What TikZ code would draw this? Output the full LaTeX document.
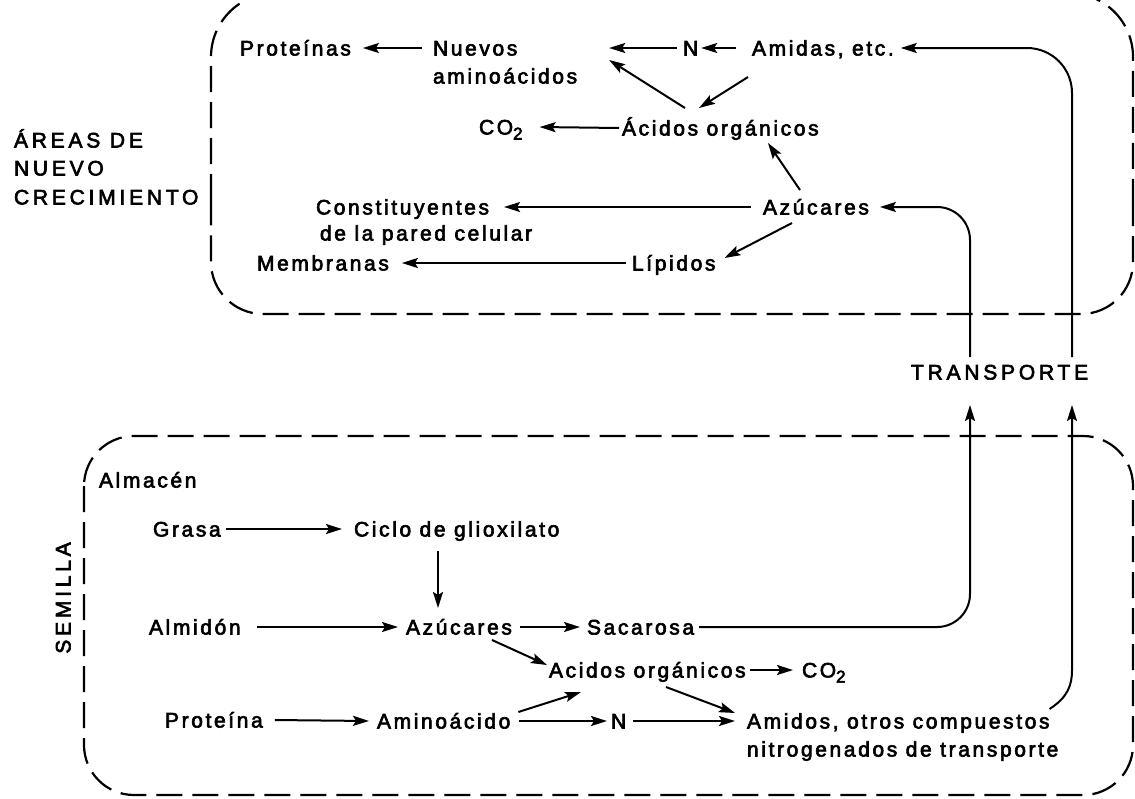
\documentclass[tikz,border=0pt]{standalone}
\usepackage{fontspec}
\setmainfont{Liberation Sans}[LetterSpace=12.5,FakeBold=3]
\newfontfamily\spacedcaps{Liberation Sans}[LetterSpace=18,FakeBold=3]
\usetikzlibrary{arrows.meta,calc}

\newcommand{\cotwo}{CO\raisebox{-5pt}{\fontsize{17}{17}\selectfont 2}}

\begin{document}
\begin{tikzpicture}[x=1pt,y=-1pt,
  lbl/.style={font=\fontsize{21}{25}\selectfont, inner sep=0pt, outer sep=0pt,
    text height=15pt, text depth=0pt, anchor=west},
  caplbl/.style={lbl, font=\spacedcaps\fontsize{21}{25}\selectfont},
  arr/.style={line width=2pt, -{Stealth[length=16pt,width=10pt,inset=3pt]}},
  boxline/.style={line width=2.2pt, dash pattern=on 26pt off 10pt}]
\useasboundingbox (0,0) rectangle (1135,798);
\clip (0,0) rectangle (1135,798);

% ---------- region outlines ----------
\draw[boxline, rounded corners=64pt] (211,200) -- (211,-7) -- (1133,-7) -- (1133,200);
\draw[boxline, rounded corners=52pt] (1133,200) -- (1133,314) -- (211,314) -- (211,200);
\draw[boxline, rounded corners=50pt] (84,436) rectangle (1133,795);

% ---------- side captions ----------
\node[caplbl] (areas) at (14,140) {ÁREAS DE};
\node[caplbl] (nuevo) at (14,168) {NUEVO};
\node[caplbl] (crec)  at (14,197) {CRECIMIENTO};
\node[caplbl, anchor=center, rotate=90] (semilla) at (63,598) {SEMILLA};
\node[caplbl] (transporte) at (911,372) {TRANSPORTE};

% ---------- growing tissue ----------
\node[lbl] (proteinas) at (240,48)  {Proteínas};
\node[lbl] (nuevos)    at (433,48)  {Nuevos};
\node[lbl] (amino)     at (433,76)  {aminoácidos};
\node[lbl] (nN)        at (683,48)  {N};
\node[lbl] (amidas)    at (752,48)  {Amidas, etc.};
\node[lbl] (co2top)    at (479,127) {\cotwo};
\node[lbl] (acidostop) at (622,128) {Ácidos orgánicos};
\node[lbl] (constit)   at (316,207) {Constituyentes};
\node[lbl] (pared)     at (320,233) {de la pared celular};
\node[lbl] (azutop)    at (763,207) {Azúcares};
\node[lbl] (lipidos)   at (632,263) {Lípidos};
\node[lbl] (membranas) at (257,263) {Membranas};

% ---------- seed ----------
\node[lbl] (almacen)    at (99,480)  {Almacén};
\node[lbl] (grasa)      at (153,529) {Grasa};
\node[lbl] (ciclo)      at (354,529) {Ciclo de glioxilato};
\node[lbl] (almidon)    at (149,627) {Almidón};
\node[lbl] (azubot)     at (406,627) {Azúcares};
\node[lbl] (sacarosa)   at (587,627) {Sacarosa};
\node[lbl] (acidosbot)  at (549,670) {Acidos orgánicos};
\node[lbl] (co2bot)     at (802,670) {\cotwo};
\node[lbl] (proteina)   at (165,720) {Proteína};
\node[lbl] (aminoacido) at (377,721) {Aminoácido};
\node[lbl] (nbot)       at (611,721) {N};
\node[lbl] (amidos1)    at (747,721) {Amidos, otros compuestos};
\node[lbl] (amidos2)    at (747,749) {nitrogenados de transporte};

% transport line ends
\coordinate (tA) at (970,357);
\coordinate (tB) at (1072,357);
\coordinate (bA) at (970,405);
\coordinate (bB) at (1072,405);

% ---------- connectors: growing tissue ----------
\draw[arr] ([xshift=-11pt]nuevos.west) -- ([xshift=12pt]proteinas.east);
\draw[arr] ([xshift=-6pt]nN.west) -- ($(amino.east |- nN.west)+(32,0)$);
\draw[arr] ([xshift=-16pt]amidas.west) -- ([xshift=3pt]nN.east);
\draw[arr] ($(acidostop.west)+(63,-20)$) -- ($(amino.east)+(32,-16)$);
\draw[arr] ($(amidas.west)+(-4,29)$) -- ($(acidostop.west)+(77,-20)$);
\draw[arr] ([xshift=-3pt]acidostop.west) -- ([xshift=17pt]co2top.east);
\draw[arr] ($(azutop.west)+(37,-17)$) -- ($(acidostop.west)+(146,15)$);
\draw[arr] ([xshift=-12pt]azutop.west) -- ([xshift=15pt]constit.east);
\draw[arr] ($(azutop.west)+(29,16)$) -- ($(lipidos.east)+(9,-5)$);
\draw[arr] ([xshift=-6pt]lipidos.west) -- ([xshift=13pt]membranas.east);
\draw[arr, rounded corners=33pt] (tA) |- ([xshift=11pt]azutop.east);
\draw[arr, rounded corners=45pt] (tB) |- ([xshift=7pt]amidas.east);

% ---------- connectors: seed ----------
\draw[arr] ([xshift=5pt]grasa.east) -- ([xshift=-12pt]ciclo.west);
\draw[arr] ($(ciclo.west)+(84,22)$) -- ($(azubot.west)+(32,-19)$);
\draw[arr] ([xshift=16pt]almidon.east) -- ([xshift=-8pt]azubot.west);
\draw[arr] ([xshift=8pt]azubot.east) -- ([xshift=-7pt]sacarosa.west);
\draw[arr, rounded corners=33pt] ([xshift=5pt]sacarosa.east) -| (bA);
\draw[arr] ($(azubot.west)+(86,13)$) -- ($(acidosbot.west)+(-2,-5)$);
\draw[arr] ([xshift=4pt]acidosbot.east) -- ([xshift=-9pt]co2bot.west);
\draw[arr] ([xshift=12pt]proteina.east) -- ([xshift=-8pt]aminoacido.west);
\draw[arr] ($(aminoacido.east)+(8,-9)$) -- ($(acidosbot.west)+(32,22)$);
\draw[arr] ([xshift=9pt]aminoacido.east) -- ([xshift=-4pt]nbot.west);
\draw[arr] ([xshift=7pt]nbot.east) -- ([xshift=-12pt]amidos1.west);
\draw[arr] ($(acidosbot.west)+(117,17)$) -- ($(amidos1.west)+(-12,-8)$);
\draw[arr] ($(amidos1.east)+(0,-12)$) .. controls ($(bB)+(-4,292)$) and ($(bB)+(0,280)$) .. ($(bB)+(0,265)$) -- (bB);
\end{tikzpicture}
\end{document}
